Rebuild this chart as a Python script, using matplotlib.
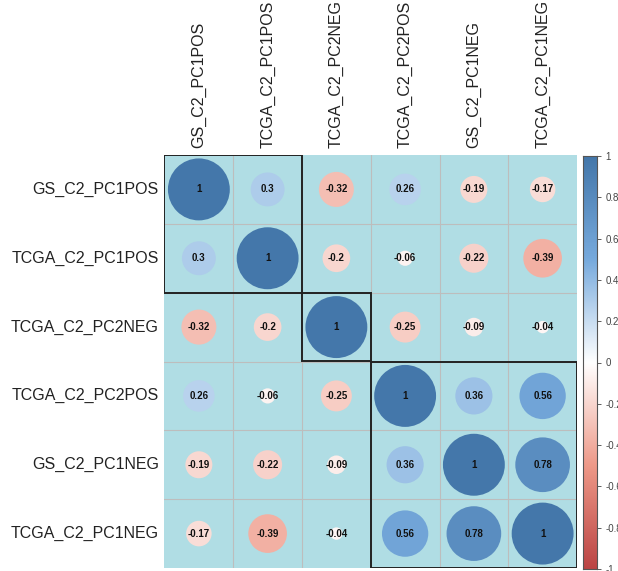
import numpy as np
import matplotlib.pyplot as plt
from matplotlib.colors import LinearSegmentedColormap
from matplotlib.patches import Circle, Rectangle

plt.rcParams["font.family"] = ["Liberation Sans", "DejaVu Sans"]

labels = ["GS_C2_PC1POS", "TCGA_C2_PC1POS", "TCGA_C2_PC2NEG",
          "TCGA_C2_PC2POS", "GS_C2_PC1NEG", "TCGA_C2_PC1NEG"]
corr = np.array([
    [1.00, 0.30, -0.32, 0.26, -0.19, -0.17],
    [0.30, 1.00, -0.20, -0.06, -0.22, -0.39],
    [-0.32, -0.20, 1.00, -0.25, -0.09, -0.04],
    [0.26, -0.06, -0.25, 1.00, 0.36, 0.56],
    [-0.19, -0.22, -0.09, 0.36, 1.00, 0.78],
    [-0.17, -0.39, -0.04, 0.56, 0.78, 1.00],
])
clusters = [(0, 2), (2, 3), (3, 6)]
cbar_ticks = [1, 0.8, 0.6, 0.4, 0.2, 0, -0.2, -0.4, -0.6, -0.8, -1]

cmap = LinearSegmentedColormap.from_list(
    "corr", ["#BB4444", "#EE9988", "#FFFFFF", "#77AADD", "#4477AA"])

W, H = 618, 571
fig = plt.figure(figsize=(W / 100, H / 100), dpi=100)
ax = fig.add_axes([164.5 / W, (H - 568) / H, 412.5 / W, 413 / H])
n = len(labels)
ax.set_xlim(0, n)
ax.set_ylim(n, 0)
ax.set_axis_off()

ax.add_patch(Rectangle((0, 0), n, n, facecolor="#B0DDE4", edgecolor="none", zorder=0))
for k in range(1, n):
    ax.axvline(k, color="#BDBDBD", lw=0.8, zorder=1)
    ax.axhline(k, color="#BDBDBD", lw=0.8, zorder=1)

for i in range(n):
    for j in range(n):
        v = corr[i, j]
        r = 0.45 * np.sqrt(abs(v))
        ax.add_patch(Circle((j + 0.5, i + 0.5), r, facecolor=cmap((v + 1) / 2),
                            edgecolor="none", zorder=2))
        ax.text(j + 0.5, i + 0.5, f"{v:g}", ha="center", va="center",
                fontsize=7, fontweight="bold", color="#111111", zorder=3)

for a, b in clusters:
    ax.add_patch(Rectangle((a, a), b - a, b - a, facecolor="none",
                           edgecolor="#222222", lw=1.4, zorder=4))

for i, lab in enumerate(labels):
    ax.text(-0.08, i + 0.5, lab, ha="right", va="center", fontsize=11.5, color="#222222")
    ax.text(i + 0.5, -0.1, lab, ha="center", va="bottom", rotation=90,
            fontsize=11.5, color="#222222")

cax = fig.add_axes([583 / W, (H - 569) / H, 14 / W, 413 / H])
grad = np.linspace(-1, 1, 256).reshape(-1, 1)
cax.imshow(grad, aspect="auto", cmap=cmap, origin="lower", extent=[0, 1, -1, 1])
cax.set_xticks([])
cax.yaxis.tick_right()
cax.set_yticks(cbar_ticks)
cax.set_yticklabels([f"{t:g}" for t in cbar_ticks])
cax.tick_params(axis="y", length=3, width=0.6, labelsize=7, colors="#444444", pad=3)
for s in cax.spines.values():
    s.set_color("#555555")
    s.set_linewidth(0.8)

fig.savefig("out.png", dpi=100)
